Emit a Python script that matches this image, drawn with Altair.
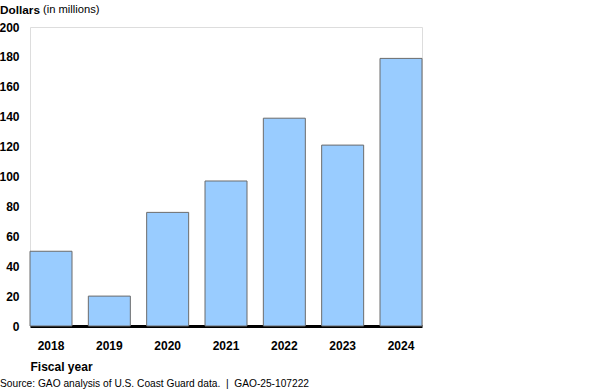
import altair as alt
import pandas as pd

years = ["2018", "2019", "2020", "2021", "2022", "2023", "2024"]
values = [50, 20, 76, 97, 139, 121, 179]
y_ticks = [0, 20, 40, 60, 80, 100, 120, 140, 160, 180, 200]

df = pd.DataFrame({"year": years, "value": values})
FONT = "Liberation Sans"
NB = "\u00a0"

bars = alt.Chart(df).mark_bar(
    fill="#99CCFF", stroke="#6b6b6b", strokeWidth=1
).encode(
    x=alt.X("year:N", sort=years,
            scale=alt.Scale(paddingInner=0.28, paddingOuter=0),
            axis=alt.Axis(title="Fiscal year", labelAngle=0, ticks=False,
                          grid=False,
                          tickSize=0, labelPadding=14, labelFont=FONT,
                          labelFontSize=12, labelFontWeight="bold",
                          labelColor="black", domainColor="black",
                          domainWidth=3, titleFont=FONT, titleFontSize=12,
                          titleFontWeight="bold", titleColor="black",
                          titleAnchor="start", titleAlign="left",
                          titleBaseline="middle", titleX=0, titleY=40)),
    y=alt.Y("value:Q", scale=alt.Scale(domain=[0, 200], nice=False),
            axis=alt.Axis(title=None, values=y_ticks, ticks=False, tickSize=0,
                          domain=False, grid=False, labelAlign="right",
                          labelPadding=11, labelFont=FONT, labelFontSize=12,
                          labelFontWeight="bold", labelColor="black")),
)

title_bold = alt.Chart(pd.DataFrame({"t": ["Dollars"]})).mark_text(
    align="left", baseline="middle", font=FONT, fontSize=11.8,
    fontWeight="bold", color="black"
).encode(text="t:N", x=alt.value(-30), y=alt.value(-17))

title_norm = alt.Chart(pd.DataFrame({"t": ["(in millions)"]})).mark_text(
    align="left", baseline="middle", font=FONT, fontSize=11.2,
    color="black"
).encode(text="t:N", x=alt.value(13), y=alt.value(-17))

source_text = "Source: GAO analysis of U.S. Coast Guard data." + NB + NB + "|" + NB + NB + "GAO-25-107222"
source = alt.Chart(pd.DataFrame({"t": [source_text]})).mark_text(
    align="left", baseline="middle", font=FONT, fontSize=10.2, color="black"
).encode(text="t:N", x=alt.value(-30), y=alt.value(357))

chart = alt.layer(bars, title_bold, title_norm, source).properties(
    width=392, height=299,
    autosize=alt.AutoSizeParams(type="none"),
    padding={"left": 30, "top": 27, "right": 178, "bottom": 65},
).configure_view(strokeWidth=0).configure(background="white")

chart.save("out.html", embed_options={"renderer": "svg", "actions": False})
